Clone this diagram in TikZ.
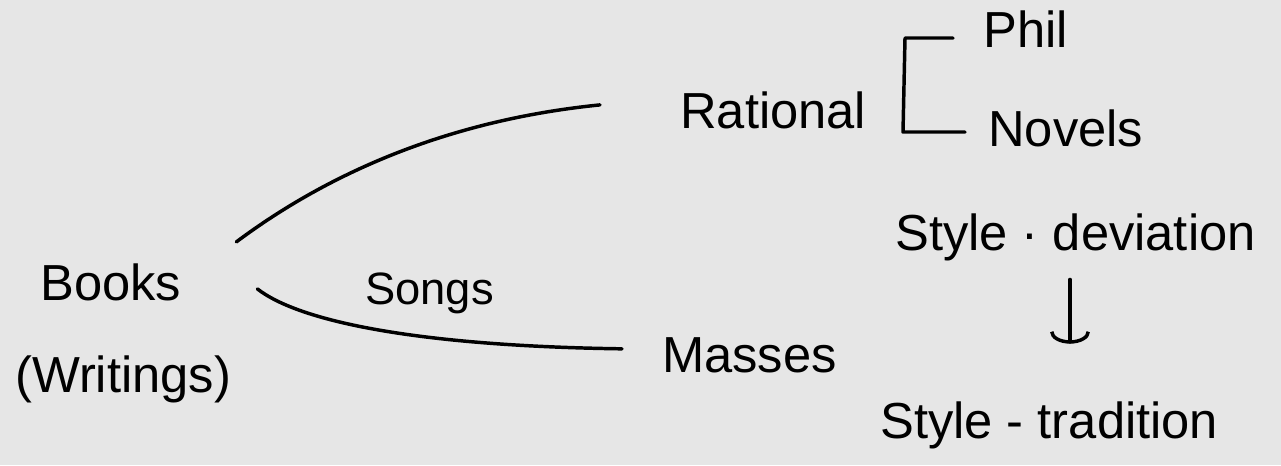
\documentclass[tikz,border=0pt]{standalone}
\usepackage{fontspec}
\setmainfont{Liberation Sans}
\usetikzlibrary{arrows.meta}
\definecolor{bg}{RGB}{230,230,230}
\tikzset{
  hand/.style={font=\fontsize{38}{40}\selectfont, inner sep=0pt, text=black},
  small/.style={font=\fontsize{34}{36}\selectfont, inner sep=0pt, text=black},
  stroke/.style={draw=black, line width=2.6pt, line cap=round, line join=round}
}
\begin{document}
\begin{tikzpicture}[x=0.75pt,y=-0.75pt]
\fill[bg] (0,0) rectangle (1281,465);
\useasboundingbox (0,0) rectangle (1281,465);

\node[hand, anchor=base west] (books) at (40,300) {Books};
\node[hand, anchor=base west] (writings) at (15,392) {(Writings)};
\node[hand, anchor=base west] (rational) at (680,128) {Rational};
\node[hand, anchor=base west] (phil) at (983,47) {Phil};
\node[hand, anchor=base west] (novels) at (988,146) {Novels};
\node[small, anchor=base west] (songs) at (365,304) {Songs};
\node[hand, anchor=base west] (masses) at (662,372) {Masses};
\node[hand, anchor=base west] (dev) at (895,250) {Style · deviation};
\node[hand, anchor=base west] (trad) at (880,438) {Style - tradition};
\coordinate (ax) at (1070,0);

% upper curve Books -> Rational
\draw[stroke] ([shift={(55,-40)}]books.east) .. controls (330,172) and (450,120) .. ([shift={(-80,-5)}]rational.west);
% lower curve Books -> Masses
\draw[stroke] ([shift={(76,7)}]books.east) .. controls (300,322) and (420,346) .. ([shift={(-40,-6)}]masses.west);

% bracket
\draw[stroke] ([shift={(-30,-9)}]phil.base west) -- ([shift={(-78,-9)}]phil.base west) -- ([shift={(-85,-14)}]novels.base west) -- ([shift={(-23,-14)}]novels.base west);

% arrow deviation -> tradition
\draw[stroke, -{Arc Barb[length=9pt,width=30pt,line width=2.6pt]}]
  ([yshift=-14pt]dev.south -| ax) -- ([yshift=43pt]trad.north -| ax);
\end{tikzpicture}
\end{document}
